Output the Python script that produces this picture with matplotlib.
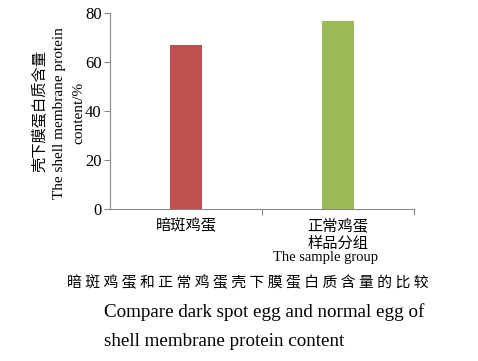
import matplotlib
matplotlib.use("Agg")
import matplotlib.pyplot as plt

categories = ["暗斑鸡蛋", "正常鸡蛋"]
values = [66.8, 76.7]
colors = ["#C0504D", "#9BBB59"]
yticks = [0, 20, 40, 60, 80]

W, H = 478, 361
fig = plt.figure(figsize=(W / 100, H / 100), dpi=100)
ax = fig.add_axes([110 / W, 1 - 209 / H, (414 - 110) / W, (209 - 13) / H])

x = list(range(len(categories)))
ax.bar(x, values, width=0.205, color=colors, zorder=2)
ax.set_xlim(-0.5, 1.5)
ax.set_ylim(0, 80)

cjk = ["Noto Sans CJK SC", "DejaVu Sans"]
serif = ["Liberation Serif", "DejaVu Serif"]

ax.set_yticks(yticks)
ax.set_yticklabels([str(v) for v in yticks], fontfamily=serif, fontsize=12)
ax.tick_params(axis="y", direction="out", length=4, width=0.8, color="#888888", pad=2)

ax.set_xticks(x)
ax.set_xticklabels(categories, fontfamily=cjk, fontsize=11)
ax.tick_params(axis="x", which="major", length=0, pad=6)
ax.set_xticks([0.5, 1.5], minor=True)
ax.tick_params(axis="x", which="minor", direction="out", length=4, width=0.8, color="#888888")

for s in ["top", "right"]:
    ax.spines[s].set_visible(False)
for s in ["left", "bottom"]:
    ax.spines[s].set_color("#888888")
    ax.spines[s].set_linewidth(0.8)

def fx(px):
    return px / W

def fy(py):
    return 1 - py / H

# y-axis label (three lines)
fig.text(fx(40), fy(111), "壳下膜蛋白质含量", rotation=90, ha="center", va="center",
         fontfamily=cjk, fontsize=11)
fig.text(fx(60), fy(113), "The shell membrane protein", rotation=90, ha="center", va="center",
         fontfamily=serif, fontsize=11)
fig.text(fx(79), fy(113), "content/%", rotation=90, ha="center", va="center",
         fontfamily=serif, fontsize=11)

# x-axis label
fig.text(fx(338), fy(243), "样品分组", ha="center", va="center", fontfamily=cjk, fontsize=11)
fig.text(fx(326), fy(257), "The sample group", ha="center", va="center",
         fontfamily=serif, fontsize=10.5)

# caption
cap_cn = " ".join("暗斑鸡蛋和正常鸡蛋壳下膜蛋白质含量的比较")
fig.text(fx(67), fy(283), cap_cn, ha="left", va="center", fontfamily=cjk, fontsize=10.7)
fig.text(fx(104), fy(312), "Compare dark spot egg and normal egg of", ha="left", va="center",
         fontfamily=serif, fontsize=13.7)
fig.text(fx(104), fy(341), "shell membrane protein content", ha="left", va="center",
         fontfamily=serif, fontsize=13.7)

fig.savefig("out.png", dpi=100)
